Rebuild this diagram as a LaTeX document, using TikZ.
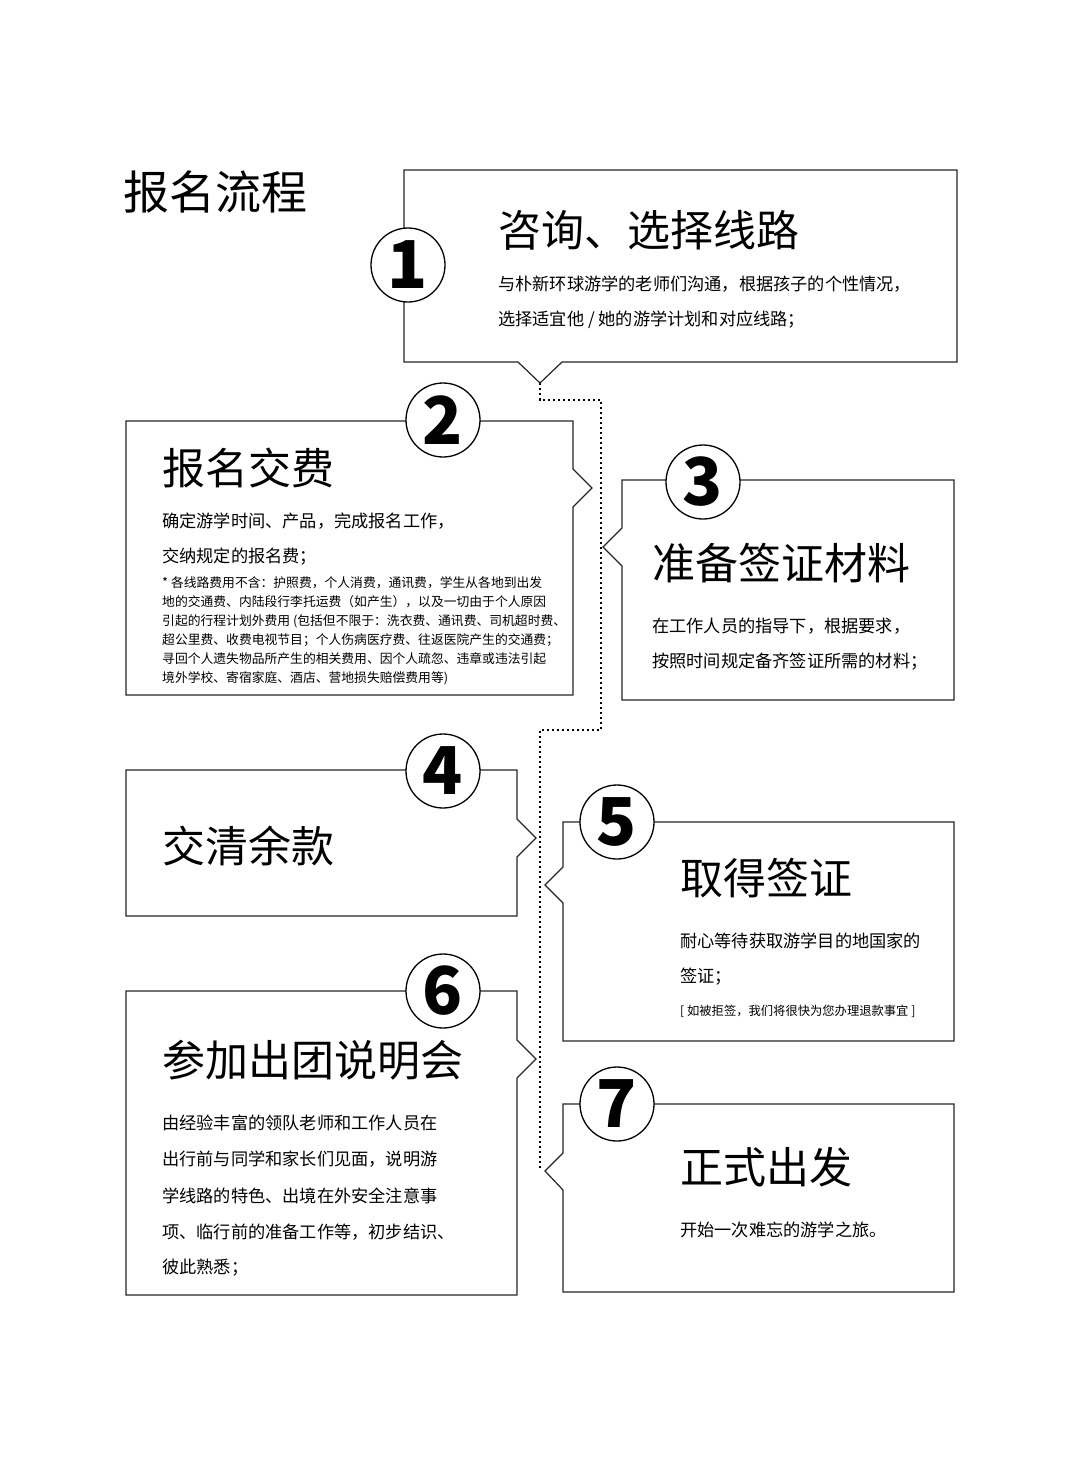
\documentclass[tikz,border=0pt]{standalone}
\usepackage{fontspec}
\setmainfont{Noto Sans CJK SC}
\begin{document}
\begin{tikzpicture}[x=1pt,y=-1pt,
  boxline/.style={draw=black!85,line width=1.2pt,fill=white,line join=miter},
  numc/.style={circle,draw=black,line width=1.3pt,fill=white,minimum size=74pt,inner sep=0pt,font=\fontsize{66}{66}\selectfont\bfseries},
  head/.style={anchor=west,inner sep=0pt,font=\fontsize{43}{43}\selectfont},
  body/.style={anchor=west,inner sep=0pt,font=\fontsize{17.2}{17.2}\selectfont},
  small/.style={anchor=north west,inner sep=0pt,font=\fontsize{12.8}{19}\selectfont,align=left},
  dots/.style={line width=2.2pt,dash pattern=on 2.2pt off 2.8pt}]
\useasboundingbox (0,0) rectangle (1080,1465);
\fill[white] (0,0) rectangle (1080,1465);
\node[anchor=west,inner sep=0pt,font=\fontsize{46}{46}\selectfont] (title) at (123,192) {报名流程};
% dotted connector
\coordinate (d0) at (540,383);
\coordinate (d1) at (540,400);
\coordinate (d2) at (601,400);
\coordinate (d3) at (601,730);
\coordinate (d4) at (540,730);
\coordinate (d5) at (540,1170);
\draw[dots] (d0) -- (d1) -- (d2) -- (d3) -- (d4) -- (d5);
% boxes
\draw[boxline] (404,170) -- (957,170) -- (957,362) -- (562,362) -- (540,383) -- (518,362) -- (404,362) -- cycle;
\draw[boxline] (126,421) -- (573,421) -- (573,469) -- (592,488) -- (573,507) -- (573,695) -- (126,695) -- cycle;
\draw[boxline] (622,480) -- (954,480) -- (954,700) -- (622,700) -- (622,566) -- (603,547) -- (622,528) -- cycle;
\draw[boxline] (126,770) -- (517,770) -- (517,819) -- (536,838) -- (517,857) -- (517,916) -- (126,916) -- cycle;
\draw[boxline] (563,822) -- (954,822) -- (954,1041) -- (563,1041) -- (563,903) -- (545,885) -- (563,867) -- cycle;
\draw[boxline] (126,991) -- (517,991) -- (517,1040) -- (536,1059) -- (517,1078) -- (517,1295) -- (126,1295) -- cycle;
\draw[boxline] (563,1104) -- (954,1104) -- (954,1292) -- (563,1292) -- (563,1190) -- (545,1171) -- (563,1153) -- cycle;
% numbers
\node[numc] (n1) at (408,265) {1};
\node[numc] (n2) at (443,420) {2};
\node[numc] (n3) at (703,482) {3};
\node[numc] (n4) at (443,771) {4};
\node[numc] (n5) at (617,822) {5};
\node[numc] (n6) at (443,991) {6};
\node[numc] (n7) at (617,1104) {7};
% texts
\node[head] (h1) at (498,230) {咨询、选择线路};
\node[body] (b1a) at (498,284) {与朴新环球游学的老师们沟通，根据孩子的个性情况，};
\node[body] (b1b) at (498,320) {选择适宜他 / 她的游学计划和对应线路；};
\node[head] (h2) at (162,468) {报名交费};
\node[body] (b2a) at (162,521) {确定游学时间、产品，完成报名工作，};
\node[body] (b2b) at (162,557) {交纳规定的报名费；};
\node[small] (s2) at (162,576) {* 各线路费用不含：护照费，个人消费，通讯费，学生从各地到出发\\地的交通费、内陆段行李托运费（如产生），以及一切由于个人原因\\引起的行程计划外费用 (包括但不限于：洗衣费、通讯费、司机超时费、\\超公里费、收费电视节目；个人伤病医疗费、往返医院产生的交通费；\\寻回个人遗失物品所产生的相关费用、因个人疏忽、违章或违法引起\\境外学校、寄宿家庭、酒店、营地损失赔偿费用等)};
\node[head] (h3) at (652,563) {准备签证材料};
\node[body] (b3a) at (652,626) {在工作人员的指导下，根据要求，};
\node[body] (b3b) at (652,662) {按照时间规定备齐签证所需的材料；};
\node[head] (h4) at (162,846) {交清余款};
\node[head] (h5) at (680,878) {取得签证};
\node[body] (b5a) at (680,941) {耐心等待获取游学目的地国家的};
\node[body] (b5b) at (680,977) {签证；};
\node[anchor=west,inner sep=0pt,font=\fontsize{12.3}{12.3}\selectfont] (s5) at (680,1011) {[ 如被拒签，我们将很快为您办理退款事宜 ]};
\node[head] (h6) at (162,1060) {参加出团说明会};
\node[body] (b6a) at (162,1123) {由经验丰富的领队老师和工作人员在};
\node[body] (b6b) at (162,1159) {出行前与同学和家长们见面，说明游};
\node[body] (b6c) at (162,1196) {学线路的特色、出境在外安全注意事};
\node[body] (b6d) at (162,1232) {项、临行前的准备工作等，初步结识、};
\node[body] (b6e) at (162,1268) {彼此熟悉；};
\node[head] (h7) at (680,1167) {正式出发};
\node[body] (b7a) at (680,1230) {开始一次难忘的游学之旅。};
\end{tikzpicture}
\end{document}
